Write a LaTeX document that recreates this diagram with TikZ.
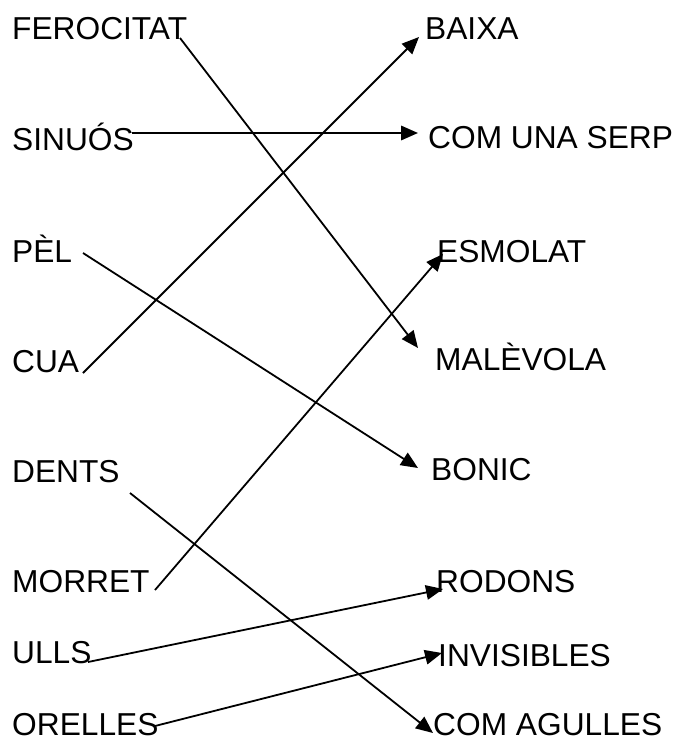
\documentclass[tikz,border=0pt]{standalone}
\usepackage{fontspec}
\setmainfont{Liberation Sans}
\usetikzlibrary{arrows.meta}
\begin{document}
\begin{tikzpicture}[x=1pt,y=-1pt,
  word/.style={anchor=base west,inner sep=0pt,font=\fontsize{31.7}{37}\selectfont},
  link/.style={line width=1.8pt,-{Triangle[length=17pt,width=14.5pt]}}]
\useasboundingbox (0,0) rectangle (675,741);
% left column
\node[word] (fer) at (12,40) {FEROCITAT};
\node[word] (sin) at (12,150) {SINUÓS};
\node[word] (pel) at (12,262) {PÈL};
\node[word] (cua) at (12,372) {CUA};
\node[word] (den) at (12,482) {DENTS};
\node[word] (mor) at (12,592) {MORRET};
\node[word] (ull) at (12,663) {ULLS};
\node[word] (ore) at (12,735) {ORELLES};
% right column
\node[word] (bai) at (425,40) {BAIXA};
\node[word] (ser) at (428,149) {COM UNA SERP};
\node[word] (esm) at (437,262) {ESMOLAT};
\node[word] (mal) at (435,370) {MALÈVOLA};
\node[word] (bon) at (431,480) {BONIC};
\node[word] (rod) at (436,592) {RODONS};
\node[word] (inv) at (438,666) {INVISIBLES};
\node[word] (agu) at (433,735) {COM AGULLES};
% connector ends
\coordinate (ferS) at (180,38);  \coordinate (malT) at (418,348);
\coordinate (sinS) at (132,133); \coordinate (serT) at (418,133);
\coordinate (cuaS) at (83,373);  \coordinate (baiT) at (419,37);
\coordinate (pelS) at (83,253);  \coordinate (bonT) at (418,468);
\coordinate (morS) at (155,590); \coordinate (esmT) at (443,254);
\coordinate (denS) at (130,493); \coordinate (aguT) at (433,733);
\coordinate (ullS) at (88,662);  \coordinate (rodT) at (443,589);
\coordinate (oreS) at (155,726); \coordinate (invT) at (442,653);
\draw[link] (ferS) -- (malT);
\draw[link] (sinS) -- (serT);
\draw[link] (cuaS) -- (baiT);
\draw[link] (pelS) -- (bonT);
\draw[link] (morS) -- (esmT);
\draw[link] (denS) -- (aguT);
\draw[link] (ullS) -- (rodT);
\draw[link] (oreS) -- (invT);
\end{tikzpicture}
\end{document}
